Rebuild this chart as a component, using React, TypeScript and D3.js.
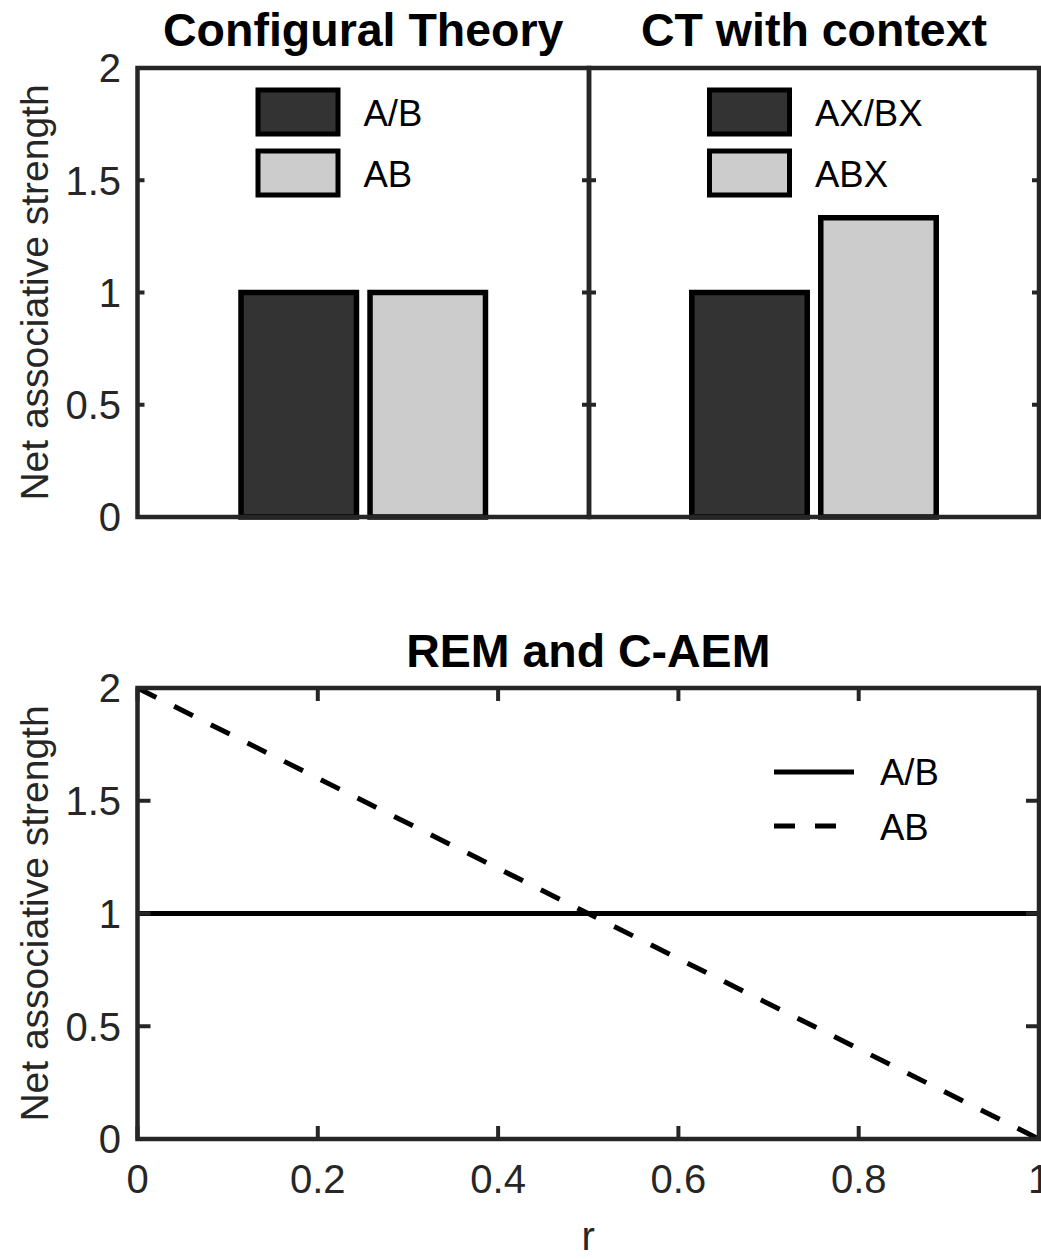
import React from 'react';
import * as d3 from 'd3';

// bar panels
const barKeys = ['s1', 's2'];
const barColors = ['#333333', '#cccccc'];
const ctLabels = ['A/B', 'AB'];
const ctValues = [1, 1];
const ctxLabels = ['AX/BX', 'ABX'];
const ctxValues = [1, 1.333];

// line panel
const rValues = [0, 1];
const solidValues = [1, 1];
const dashedValues = [2, 0];
const lineLabels = ['A/B', 'AB'];

const yTicks = [0, 0.5, 1, 1.5, 2];
const xTicks = [0, 0.2, 0.4, 0.6, 0.8, 1];
const titles = ['Configural Theory', 'CT with context', 'REM and C-AEM'];
const yLabel = 'Net associative strength';
const xLabel = 'r';

const FONT = '"Liberation Sans", Arial, Helvetica, sans-serif';
const AX = '#262626';

const top = { y0: 68, y1: 517 };
const bottom = { y0: 688, y1: 1139 };
const xLeft = 137.5, xMid = 589, xRight = 1039;

const YTickLabels = ({ y }: { y: d3.ScaleLinear<number, number> }) => (
  <g>
    {yTicks.map(t => (
      <text key={t} x={121} y={y(t)} dy="0.36em" textAnchor="end" fontSize={40} fill={AX}>
        {String(t)}
      </text>
    ))}
  </g>
);

const YLabel = ({ cy }: { cy: number }) => (
  <text transform={`translate(48,${cy}) rotate(-90)`} textAnchor="middle" fontSize={39} fill={AX}>
    {yLabel}
  </text>
);

const BarPanel = ({ x0, x1, labels, values, title }:
  { x0: number; x1: number; labels: string[]; values: number[]; title: string }) => {
  const y = d3.scaleLinear().domain([0, 2]).range([top.y1, top.y0]);
  const w = x1 - x0;
  const band = d3.scaleBand<string>()
    .domain(barKeys)
    .range([x0 + (w - 258) / 2, x0 + (w + 258) / 2])
    .paddingInner(0.105)
    .paddingOuter(0.0525);
  const tl = 7;
  return (
    <g>
      {values.map((v, i) => (
        <rect key={i} x={band(barKeys[i])} y={y(v)} width={band.bandwidth()} height={y(0) - y(v)}
          fill={barColors[i]} stroke="#000" strokeWidth={5.5} />
      ))}
      {yTicks.map(t => (
        <g key={t}>
          <line x1={x0} x2={x0 + tl} y1={y(t)} y2={y(t)} stroke={AX} strokeWidth={4} />
          <line x1={x1} x2={x1 - tl} y1={y(t)} y2={y(t)} stroke={AX} strokeWidth={4} />
        </g>
      ))}
      <rect x={x0} y={top.y0} width={w} height={top.y1 - top.y0} fill="none" stroke={AX} strokeWidth={4.5} />
      {labels.map((l, i) => (
        <g key={l}>
          <rect x={x0 + 120.5} y={90 + i * 61} width={80} height={44} fill={barColors[i]} stroke="#000" strokeWidth={5} />
          <text x={x0 + 226} y={126 + i * 61} fontSize={36.5} fill="#000">{l}</text>
        </g>
      ))}
      <text x={(x0 + x1) / 2} y={46} textAnchor="middle" fontSize={46.5} fontWeight="bold" fill="#000">{title}</text>
    </g>
  );
};

const LinePanel = () => {
  const x = d3.scaleLinear().domain([0, 1]).range([xLeft, xRight]);
  const y = d3.scaleLinear().domain([0, 2]).range([bottom.y1, bottom.y0]);
  const line = d3.line<number>().x((_, i) => x(rValues[i])).y(d => y(d));
  const tl = 13;
  return (
    <g>
      <path d={line(solidValues) || ''} fill="none" stroke="#000" strokeWidth={5} />
      <path d={line(dashedValues) || ''} fill="none" stroke="#000" strokeWidth={5} strokeDasharray="21,20" />
      {yTicks.map(t => (
        <g key={t}>
          <line x1={xLeft} x2={xLeft + tl} y1={y(t)} y2={y(t)} stroke={AX} strokeWidth={4} />
          <line x1={xRight} x2={xRight - tl} y1={y(t)} y2={y(t)} stroke={AX} strokeWidth={4} />
        </g>
      ))}
      {xTicks.map(t => (
        <g key={t}>
          <line x1={x(t)} x2={x(t)} y1={bottom.y1} y2={bottom.y1 - tl} stroke={AX} strokeWidth={4} />
          <line x1={x(t)} x2={x(t)} y1={bottom.y0} y2={bottom.y0 + tl} stroke={AX} strokeWidth={4} />
          <text x={x(t)} y={1193} textAnchor="middle" fontSize={40} fill={AX}>{String(t)}</text>
        </g>
      ))}
      <rect x={xLeft} y={bottom.y0} width={xRight - xLeft} height={bottom.y1 - bottom.y0} fill="none" stroke={AX} strokeWidth={4.5} />
      <YTickLabels y={y} />
      <YLabel cy={(bottom.y0 + bottom.y1) / 2} />
      <text x={(xLeft + xRight) / 2} y={1250} textAnchor="middle" fontSize={40} fill={AX}>{xLabel}</text>
      <text x={(xLeft + xRight) / 2} y={667} textAnchor="middle" fontSize={46.5} fontWeight="bold" fill="#000">{titles[2]}</text>
      {lineLabels.map((l, i) => (
        <g key={l}>
          <line x1={774} x2={854} y1={772 + i * 54} y2={772 + i * 54} stroke="#000" strokeWidth={5}
            strokeDasharray={i === 1 ? '21,20' : undefined} />
          <text x={880} y={785 + i * 55} fontSize={36.5} fill="#000">{l}</text>
        </g>
      ))}
    </g>
  );
};

export default function App() {
  const yTop = d3.scaleLinear().domain([0, 2]).range([top.y1, top.y0]);
  return (
    <svg width={1041} height={1259} style={{ position: 'absolute', left: 0, top: 0, background: '#fff' }}
      fontFamily={FONT}>
      <rect width={1041} height={1259} fill="#fff" />
      <BarPanel x0={xLeft} x1={xMid} labels={ctLabels} values={ctValues} title={titles[0]} />
      <BarPanel x0={xMid} x1={xRight} labels={ctxLabels} values={ctxValues} title={titles[1]} />
      <YTickLabels y={yTop} />
      <YLabel cy={(top.y0 + top.y1) / 2} />
      <LinePanel />
    </svg>
  );
}
